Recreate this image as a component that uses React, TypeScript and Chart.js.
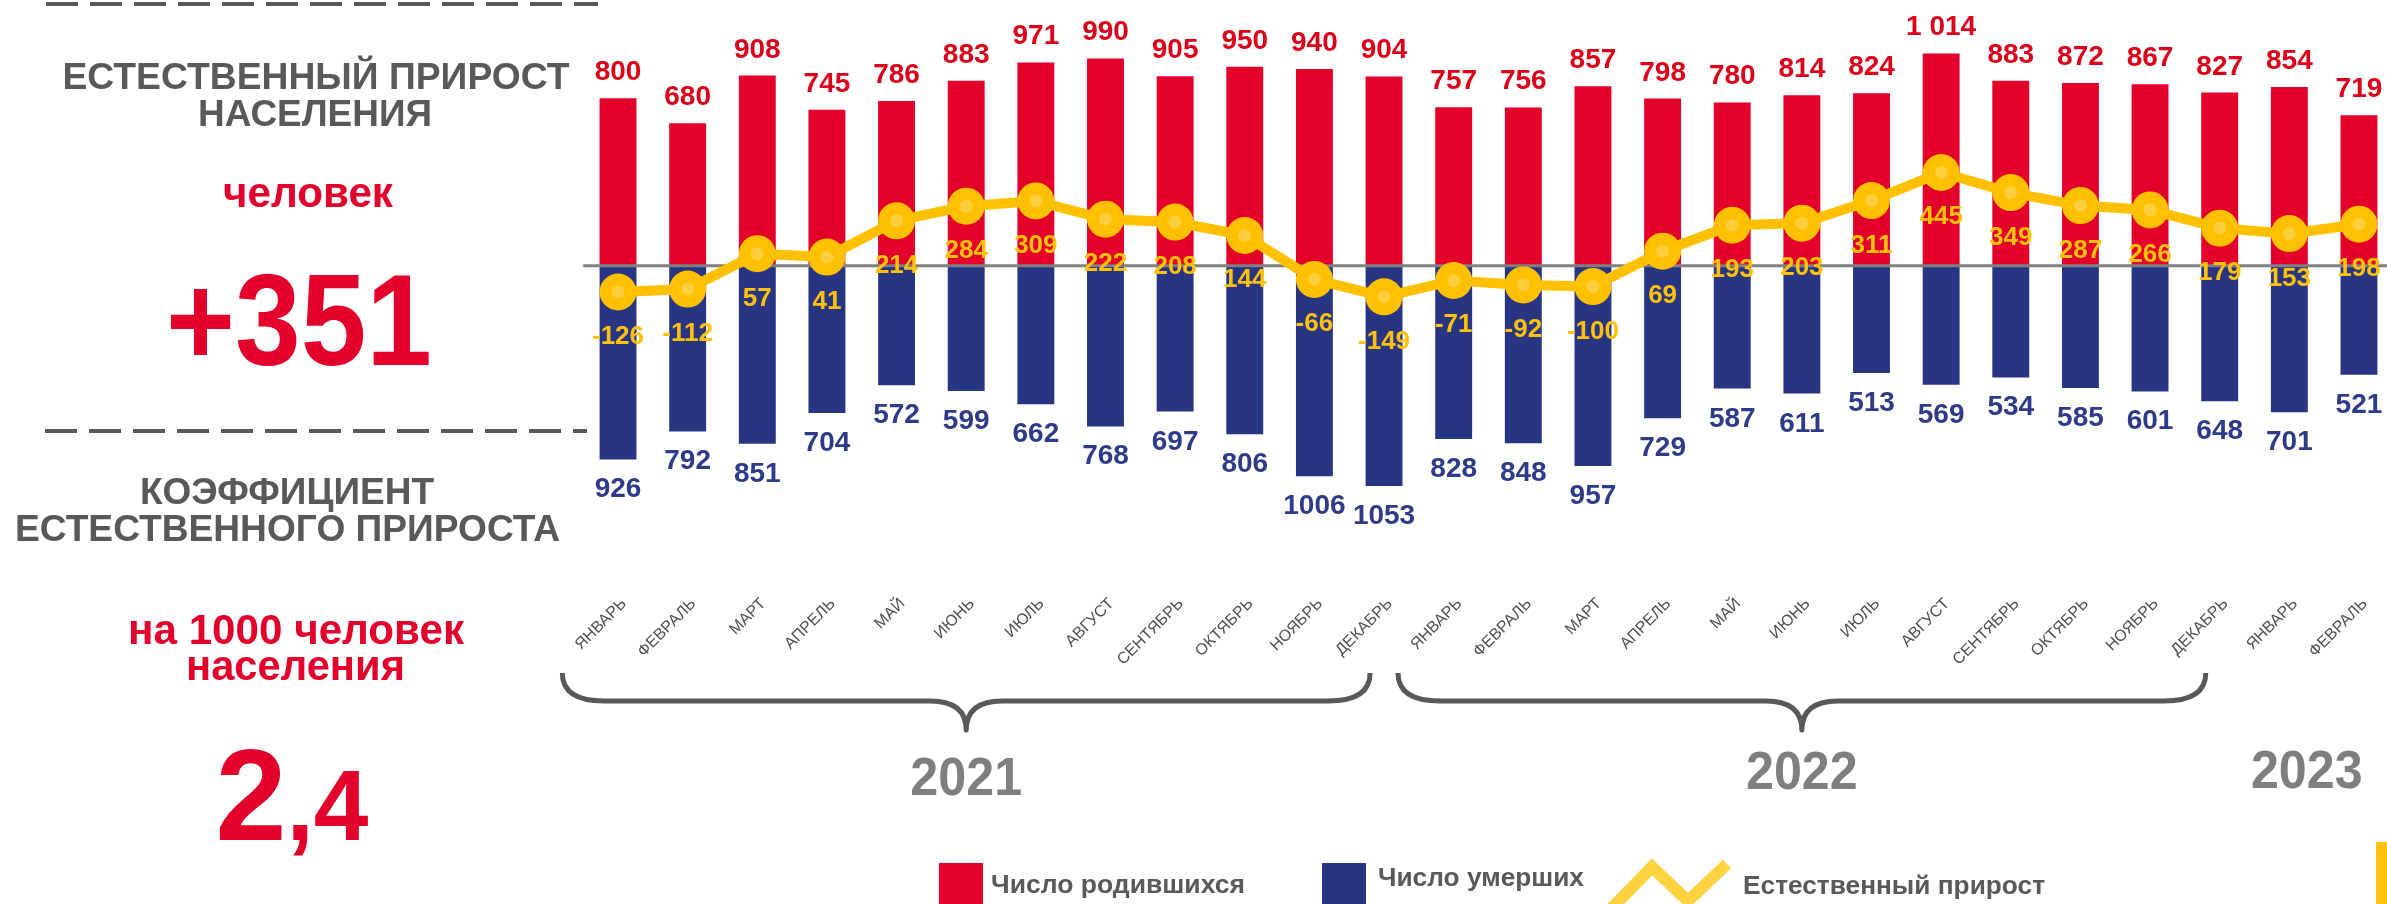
import React, { useEffect, useRef } from 'react';
import { Chart, registerables } from 'chart.js';

Chart.register(...registerables);

// ---------------- data ----------------
const months = [
  'ЯНВАРЬ', 'ФЕВРАЛЬ', 'МАРТ', 'АПРЕЛЬ', 'МАЙ', 'ИЮНЬ', 'ИЮЛЬ', 'АВГУСТ', 'СЕНТЯБРЬ', 'ОКТЯБРЬ', 'НОЯБРЬ', 'ДЕКАБРЬ',
  'ЯНВАРЬ', 'ФЕВРАЛЬ', 'МАРТ', 'АПРЕЛЬ', 'МАЙ', 'ИЮНЬ', 'ИЮЛЬ', 'АВГУСТ', 'СЕНТЯБРЬ', 'ОКТЯБРЬ', 'НОЯБРЬ', 'ДЕКАБРЬ',
  'ЯНВАРЬ', 'ФЕВРАЛЬ',
];
const births = [800, 680, 908, 745, 786, 883, 971, 990, 905, 950, 940, 904, 757, 756, 857, 798, 780, 814, 824, 1014, 883, 872, 867, 827, 854, 719];
const deaths = [926, 792, 851, 704, 572, 599, 662, 768, 697, 806, 1006, 1053, 828, 848, 957, 729, 587, 611, 513, 569, 534, 585, 601, 648, 701, 521];
const increase = [-126, -112, 57, 41, 214, 284, 309, 222, 208, 144, -66, -149, -71, -92, -100, 69, 193, 203, 311, 445, 349, 287, 266, 179, 153, 198];

const yearLabels = ['2021', '2022', '2023'];
const yearFirstIndex = [0, 12, 24];
const yearLastIndex = [11, 23, 25];
const yearHasBrace = [true, true, false];

const seriesNames = ['Число родившихся', 'Число умерших', 'Естественный прирост'];

// ---------------- styles ----------------
const FONT = '"Liberation Sans", Arial, Helvetica, sans-serif';
const RED = '#E3002B';
const RED_LABEL = '#DC0018';
const NAVY = '#283583';
const NAVY_LABEL = '#2E3B88';
const YELLOW = '#FFC000';
const YELLOW_SPOT = '#FFCE3C';
const YELLOW_LABEL = '#FFC10A';
const GRAY = '#595959';
const TICK_GRAY = '#505050';
const YEAR_GRAY = '#7F7F7F';

const CW = 2400;
const CH = 904;

const fmtBirth = (v: number) => (v >= 1000 ? `${Math.floor(v / 1000)} ${String(v % 1000).padStart(3, '0')}` : String(v));

const zeroLinePlugin = {
  id: 'zeroLine',
  beforeDatasetDraw(chart: any, args: any) {
    if (args.index !== 0) return;
    const ctx = chart.ctx;
    const y = chart.scales.y.getPixelForValue(0);
    const { left } = chart.chartArea;
    ctx.save();
    ctx.strokeStyle = '#808080';
    ctx.lineWidth = 3;
    ctx.beginPath();
    ctx.moveTo(left, y);
    ctx.lineTo(CW, y);
    ctx.stroke();
    ctx.restore();
  },
};

const valueLabelsPlugin = {
  id: 'valueLabels',
  afterDatasetsDraw(chart: any) {
    const ctx = chart.ctx;
    ctx.save();
    ctx.textAlign = 'center';
    ctx.textBaseline = 'alphabetic';
    ctx.font = `bold 28px ${FONT}`;
    ctx.fillStyle = RED_LABEL;
    chart.getDatasetMeta(2).data.forEach((el: any, i: number) => {
      ctx.fillText(fmtBirth(births[i]), el.x, el.y - 18);
    });
    ctx.fillStyle = NAVY_LABEL;
    chart.getDatasetMeta(3).data.forEach((el: any, i: number) => {
      ctx.fillText(String(deaths[i]), el.x, el.y + 38);
    });
    ctx.font = `bold 26px ${FONT}`;
    ctx.fillStyle = YELLOW_LABEL;
    chart.getDatasetMeta(0).data.forEach((el: any, i: number) => {
      ctx.fillText(String(increase[i]), el.x, el.y + 52);
    });
    ctx.restore();
  },
};

function drawBrace(ctx: CanvasRenderingContext2D, L: number, R: number, C: number, top: number, mid: number, bot: number) {
  const r = 42;
  const cw = 36;
  ctx.beginPath();
  ctx.moveTo(L, top);
  ctx.quadraticCurveTo(L, mid, L + r, mid);
  ctx.lineTo(C - cw, mid);
  ctx.quadraticCurveTo(C, mid, C, bot);
  ctx.quadraticCurveTo(C, mid, C + cw, mid);
  ctx.lineTo(R - r, mid);
  ctx.quadraticCurveTo(R, mid, R, top);
  ctx.stroke();
}

const yearsPlugin = {
  id: 'years',
  afterDraw(chart: any) {
    const ctx = chart.ctx;
    const xs = chart.scales.x;
    const cat = xs.getPixelForValue(1) - xs.getPixelForValue(0);
    ctx.save();
    ctx.strokeStyle = GRAY;
    ctx.lineWidth = 5;
    ctx.lineJoin = 'round';
    yearLabels.forEach((yl, k) => {
      const a = xs.getPixelForValue(yearFirstIndex[k]);
      const b = xs.getPixelForValue(yearLastIndex[k]);
      let cx: number;
      let base: number;
      if (yearHasBrace[k]) {
        const L = a - 0.8 * cat;
        const R = b - 0.2 * cat;
        cx = (L + R) / 2;
        drawBrace(ctx, L, R, cx, 673, 701, 730);
        base = k === 0 ? 795 : 789;
      } else {
        cx = (a + b) / 2 - 0.25 * cat;
        base = 788;
      }
      ctx.save();
      ctx.translate(cx, base);
      ctx.scale(0.93, 1);
      ctx.font = `bold 54px ${FONT}`;
      ctx.fillStyle = YEAR_GRAY;
      ctx.textAlign = 'center';
      ctx.textBaseline = 'alphabetic';
      ctx.fillText(yl, 0, 0);
      ctx.restore();
    });
    ctx.restore();
  },
};

function ChartCanvas() {
  const ref = useRef<HTMLCanvasElement | null>(null);
  useEffect(() => {
    if (!ref.current) return;
    const chart = new Chart(ref.current, {
      data: {
        labels: months,
        datasets: [
          {
            type: 'line',
            label: seriesNames[2],
            data: increase,
            borderColor: YELLOW,
            backgroundColor: YELLOW,
            borderWidth: 10,
            pointRadius: 18.5,
            pointBackgroundColor: YELLOW,
            pointBorderWidth: 0,
            tension: 0,
            order: 0,
            clip: false,
          } as any,
          {
            type: 'line',
            label: 'spot',
            data: increase,
            showLine: false,
            pointRadius: 6.5,
            pointBackgroundColor: YELLOW_SPOT,
            pointBorderWidth: 0,
            order: -1,
            clip: false,
          } as any,
          {
            type: 'bar',
            label: seriesNames[0],
            data: births,
            backgroundColor: RED,
            grouped: false,
            categoryPercentage: 1,
            barPercentage: 0.53,
            order: 2,
          } as any,
          {
            type: 'bar',
            label: seriesNames[1],
            data: deaths.map((v) => -v),
            backgroundColor: NAVY,
            grouped: false,
            categoryPercentage: 1,
            barPercentage: 0.53,
            order: 2,
          } as any,
        ],
      },
      options: {
        responsive: false,
        animation: false,
        devicePixelRatio: 1,
        layout: { autoPadding: false, padding: { left: 583.2, right: 6.2, top: 4, bottom: 204.4 } },
        plugins: { legend: { display: false }, tooltip: { enabled: false }, title: { display: false } },
        scales: {
          x: {
            type: 'category',
            offset: true,
            grid: { display: false, drawTicks: false },
            border: { display: false },
            ticks: {
              autoSkip: false,
              minRotation: 45,
              maxRotation: 45,
              labelOffset: 6,
              padding: 14.8,
              color: TICK_GRAY,
              font: { family: FONT, size: 16 },
            },
            afterFit: (s: any) => {
              s.height = 120;
            },
          },
          y: { display: false, min: -1500, max: 1250 },
        },
      } as any,
      plugins: [zeroLinePlugin, valueLabelsPlugin, yearsPlugin],
    });
    return () => chart.destroy();
  }, []);
  return <canvas ref={ref} width={CW} height={CH} style={{ position: 'absolute', left: 0, top: 0, width: CW, height: CH }} />;
}

function Overlay() {
  const t = (x: number, y: number, s: string, size: number, fill: string, len?: number, anchor: string = 'middle') => (
    <text
      x={x}
      y={y}
      fontFamily={FONT}
      fontWeight="bold"
      fontSize={size}
      fill={fill}
      textAnchor={anchor as any}
      {...(len ? { textLength: len, lengthAdjust: 'spacingAndGlyphs' } : {})}
    >
      {s}
    </text>
  );
  return (
    <svg width={2387} height={904} style={{ position: 'absolute', left: 0, top: 0, pointerEvents: 'none' }}>
      <line x1={46} y1={4} x2={598} y2={4} stroke={GRAY} strokeWidth={4} strokeDasharray="32 12" />
      <line x1={45} y1={431} x2={587} y2={431} stroke={GRAY} strokeWidth={4} strokeDasharray="32 12" />
      {t(316, 89, 'ЕСТЕСТВЕННЫЙ ПРИРОСТ', 37, GRAY, 507)}
      {t(315, 126, 'НАСЕЛЕНИЯ', 37, GRAY, 234)}
      {t(308, 207, 'человек', 42, RED, 170)}
      {t(299, 365, '+351', 130, RED, 266)}
      {t(287, 504, 'КОЭФФИЦИЕНТ', 37, GRAY, 294)}
      {t(287.5, 541, 'ЕСТЕСТВЕННОГО ПРИРОСТА', 37, GRAY, 545)}
      {t(296, 644, 'на 1000 человек', 42, RED, 336)}
      {t(295.5, 680, 'населения', 42, RED, 219)}
      <text x={292} y={840} fontFamily={FONT} fontWeight="bold" fill={RED} textAnchor="middle" textLength={153} lengthAdjust="spacingAndGlyphs">
        <tspan fontSize={130}>2</tspan>
        <tspan fontSize={100}>,4</tspan>
      </text>
      {/* legend */}
      <rect x={939} y={863} width={44} height={50} fill={RED} />
      {t(991, 893, seriesNames[0], 26, GRAY, 254, 'start')}
      <rect x={1322} y={863} width={44} height={50} fill={NAVY} />
      {t(1378, 886, seriesNames[1], 26, GRAY, 206, 'start')}
      <polyline points="1612,908 1652,867 1688,901 1727,864" fill="none" stroke="#FFD23F" strokeWidth={12} strokeLinejoin="miter" />
      {t(1743, 894, seriesNames[2], 26, GRAY, 302, 'start')}
      <rect x={2376} y={842} width={11} height={62} fill="#FFC20E" />
    </svg>
  );
}

export default function App() {
  return (
    <div style={{ position: 'absolute', left: 0, top: 0, width: 2387, height: 904, overflow: 'hidden', background: '#ffffff' }}>
      <ChartCanvas />
      <Overlay />
    </div>
  );
}
